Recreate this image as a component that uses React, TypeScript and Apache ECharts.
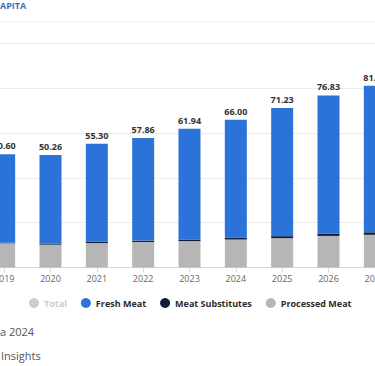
import React, { useEffect, useRef } from "react";
import * as echarts from "echarts";

const years = ["2019", "2020", "2021", "2022", "2023", "2024", "2025", "2026", "2027"];
const totals = [50.6, 50.26, 55.3, 57.86, 61.94, 66.0, 71.23, 76.83, 81.1];
const processedMeat = [10.8, 10.2, 10.9, 11.4, 11.8, 12.5, 13.1, 14.1, 14.6];
const meatSubstitutes = [0.3, 0.5, 0.6, 0.6, 0.7, 0.8, 0.9, 1.0, 1.1];
const freshMeat = totals.map((t, i) => +(t - processedMeat[i] - meatSubstitutes[i]).toFixed(2));

const FONT = "'Open Sans', 'Noto Sans', sans-serif";
const OFF = 19; // canvas starts left of the visible page (reference is cropped)

export default function App() {
  const ref = useRef<HTMLDivElement>(null);
  useEffect(() => {
    if (!ref.current) return;
    const chart = echarts.init(ref.current, undefined, { renderer: "svg" });
    chart.setOption({
      animation: false,
      textStyle: { fontFamily: FONT },
      grid: { left: 0, right: 0, top: 43.5, bottom: 98.5, containLabel: false },
      legend: {
        data: ["Total", "Fresh Meat", "Meat Substitutes", "Processed Meat"],
        selected: { Total: false },
        icon: "circle",
        itemWidth: 10,
        itemHeight: 10,
        itemGap: 14,
        left: 24 + OFF,
        top: 293,
        inactiveColor: "#cccccc",
        textStyle: { fontSize: 9, fontWeight: "bold", color: "#2b2b2b", fontFamily: FONT },
      },
      xAxis: {
        type: "category",
        data: years,
        axisLine: { lineStyle: { color: "#d9d9d9" } },
        axisTick: { show: true, alignWithLabel: true, length: 5, lineStyle: { color: "#d9d9d9" } },
        axisLabel: { color: "#666666", fontSize: 9, margin: 6, fontFamily: FONT },
      },
      yAxis: {
        type: "value",
        min: 0,
        max: 100,
        interval: 20,
        axisLabel: { show: false },
        axisLine: { show: false },
        axisTick: { show: false },
        splitLine: { lineStyle: { color: "#ebebeb" } },
      },
      series: [
        {
          name: "Total",
          type: "line",
          data: totals,
          itemStyle: { color: "#b0b0b0" },
          symbol: "circle",
        },
        {
          name: "Processed Meat",
          type: "bar",
          stack: "s",
          barWidth: 22,
          data: processedMeat,
          itemStyle: { color: "#b6b6b6" },
        },
        {
          name: "Meat Substitutes",
          type: "bar",
          stack: "s",
          barWidth: 22,
          data: meatSubstitutes,
          itemStyle: { color: "#0f1f3a" },
        },
        {
          name: "Fresh Meat",
          type: "bar",
          stack: "s",
          barWidth: 22,
          data: freshMeat,
          itemStyle: { color: "#2b73d9" },
          label: {
            show: true,
            position: "top",
            distance: 4,
            fontSize: 9,
            fontWeight: "bold",
            color: "#333333",
            fontFamily: FONT,
            formatter: (p: any) => totals[p.dataIndex].toFixed(2),
          },
        },
      ],
      graphic: [
        {
          type: "text",
          left: OFF,
          top: 1,
          style: { text: "APITA", fontSize: 9, fontWeight: "bold", fill: "#3a6fb8", fontFamily: FONT },
        },
        {
          type: "line",
          shape: { x1: 0, y1: 22, x2: 375 + 2 * OFF + 10, y2: 22 },
          style: { stroke: "#ebebeb", lineWidth: 1 },
        },
        {
          type: "text",
          left: OFF,
          top: 326,
          style: { text: "a 2024", fontSize: 11, fill: "#555555", fontFamily: FONT },
        },
        {
          type: "text",
          left: OFF + 1,
          top: 350,
          style: { text: "Insights", fontSize: 11, fill: "#555555", fontFamily: FONT },
        },
      ],
    });
    return () => chart.dispose();
  }, []);
  return (
    <div
      ref={ref}
      style={{ position: "fixed", left: -OFF, top: 0, width: 375 + OFF + 23, height: 366, background: "#ffffff" }}
    />
  );
}
